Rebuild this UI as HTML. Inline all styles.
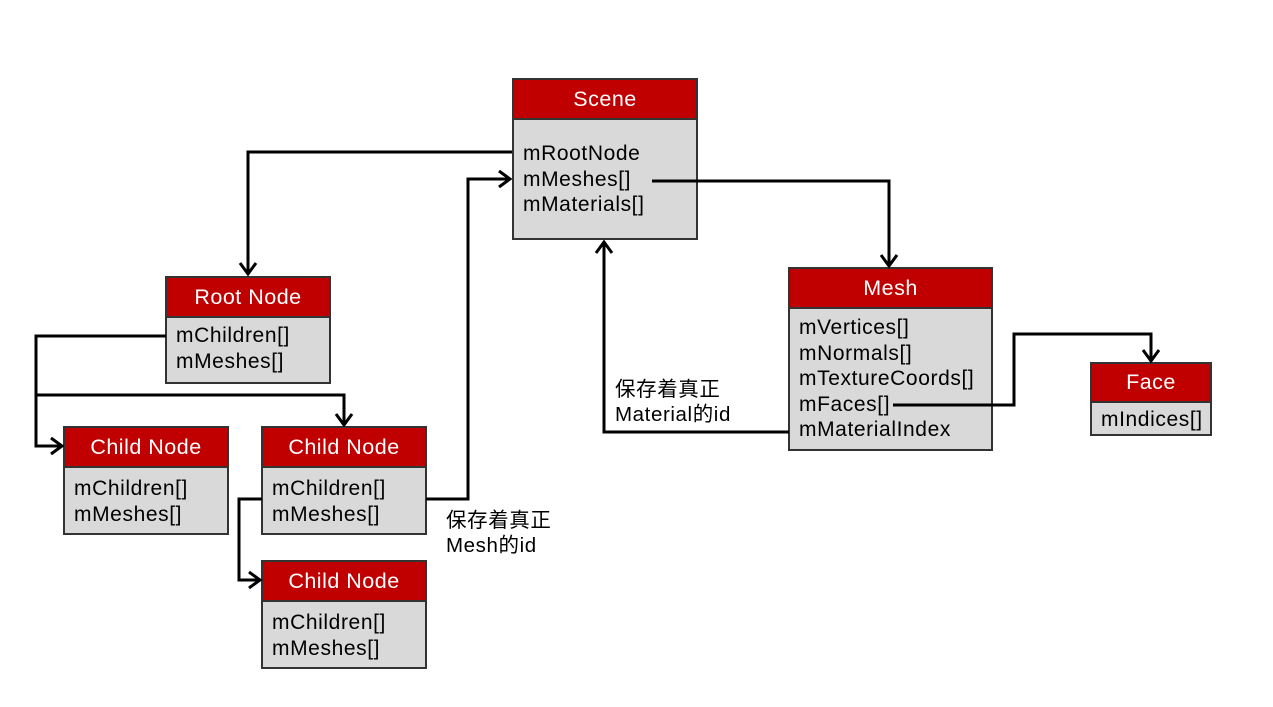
<!DOCTYPE html>
<html><head><meta charset="utf-8"><style>
body{margin:0;width:1273px;height:707px;background:#fff;position:relative;overflow:hidden;font-family:"Liberation Sans","Noto Sans CJK SC",sans-serif}
.b{position:absolute;border:2px solid #333;background:#d9d9d9;box-sizing:border-box}
.h{background:#c00000;color:#fff;text-align:center;font-size:21.5px;letter-spacing:0.5px;border-bottom:2px solid #333;box-sizing:border-box}
.t{font-size:21px;letter-spacing:0.6px;color:#000;padding-left:9px;line-height:25.5px;white-space:nowrap}
.l{position:absolute;font-size:20.5px;letter-spacing:0.6px;line-height:25px;color:#000;white-space:nowrap}
svg{position:absolute;left:0;top:0}
</style></head><body>
<div class="b" style="left:512px;top:78px;width:186px;height:162px"><div class="h" style="height:40px;line-height:38px">Scene</div><div class="t" style="padding-top:21px">mRootNode<br>mMeshes[]<br>mMaterials[]</div></div>
<div class="b" style="left:165px;top:276px;width:166px;height:108px"><div class="h" style="height:40px;line-height:38px">Root Node</div><div class="t" style="padding-top:5px;line-height:26px">mChildren[]<br>mMeshes[]</div></div>
<div class="b" style="left:63px;top:426px;width:166px;height:109px"><div class="h" style="height:40px;line-height:38px">Child Node</div><div class="t" style="padding-top:8px">mChildren[]<br>mMeshes[]</div></div>
<div class="b" style="left:261px;top:426px;width:166px;height:109px"><div class="h" style="height:40px;line-height:38px">Child Node</div><div class="t" style="padding-top:8px">mChildren[]<br>mMeshes[]</div></div>
<div class="b" style="left:261px;top:560px;width:166px;height:109px"><div class="h" style="height:40px;line-height:38px">Child Node</div><div class="t" style="padding-top:8px">mChildren[]<br>mMeshes[]</div></div>
<div class="b" style="left:788px;top:267px;width:205px;height:184px"><div class="h" style="height:40px;line-height:38px">Mesh</div><div class="t" style="padding-top:6px">mVertices[]<br>mNormals[]<br>mTextureCoords[]<br>mFaces[]<br>mMaterialIndex</div></div>
<div class="b" style="left:1090px;top:362px;width:122px;height:74px"><div class="h" style="height:39px;line-height:37px">Face</div><div class="t" style="padding-top:4px">mIndices[]</div></div>
<div class="l" style="left:615px;top:377px">保存着真正<br>Material的id</div>
<div class="l" style="left:446px;top:508px">保存着真正<br>Mesh的id</div>
<svg width="1273" height="707" fill="none" stroke="#000" stroke-width="3">
<polyline points="512,152 248,152 248,274"/><polyline points="240,263 248,274 256,263"/>
<polyline points="166,336 36,336 36,446 62,446"/><polyline points="51,438 62,446 51,454"/>
<polyline points="36,395 344,395 344,425"/><polyline points="336,414 344,425 352,414"/>
<polyline points="426,499 468,499 468,179 510,179"/><polyline points="499,171 510,179 499,187"/>
<polyline points="262,499 239,499 239,580 260,580"/><polyline points="249,572 260,580 249,588"/>
<polyline points="652,181 889,181 889,266"/><polyline points="881,255 889,266 897,255"/>
<polyline points="893,405 1014,405 1014,334 1151,334 1151,361"/><polyline points="1143,350 1151,361 1159,350"/>
<polyline points="789,432 604,432 604,242"/><polyline points="596,253 604,242 612,253"/>
</svg>
</body></html>
